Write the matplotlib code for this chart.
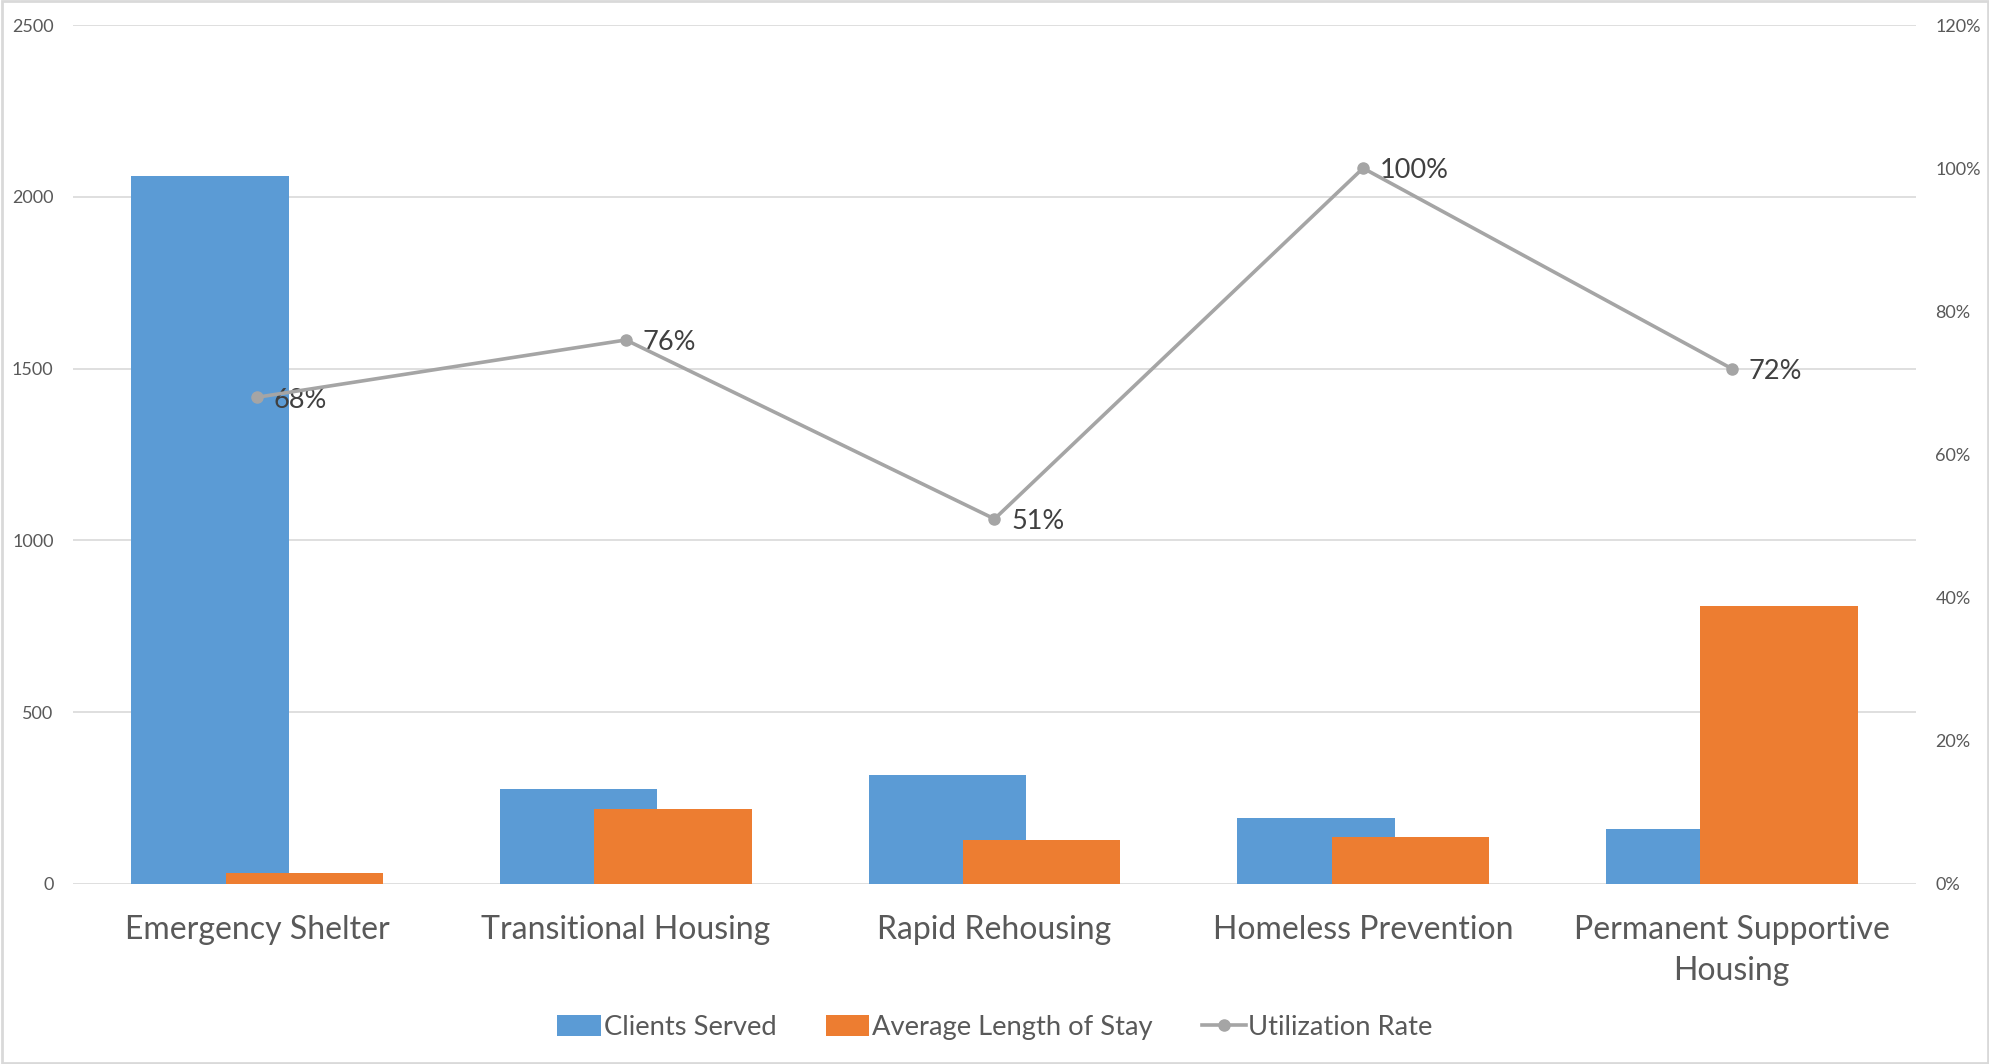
import numpy as np
import matplotlib
matplotlib.use("Agg")
import matplotlib.pyplot as plt
from matplotlib.patches import Rectangle
from matplotlib.ticker import FuncFormatter

plt.rcParams['font.family'] = ['Lato', 'DejaVu Sans']

categories = ["Emergency Shelter", "Transitional Housing", "Rapid Rehousing",
              "Homeless Prevention", "Permanent Supportive\nHousing"]
clients_served = [2061, 276, 316, 192, 159]
avg_length_stay = [32, 219, 129, 138, 808]
utilization = [0.68, 0.76, 0.51, 1.00, 0.72]

blue = "#5B9BD5"
orange = "#ED7D31"
grey = "#A5A5A5"
text_col = "#595959"
grid_col = "#D9D9D9"

fig = plt.figure(figsize=(19.9, 10.64), dpi=100)
ax1 = fig.add_axes([73 / 1990, 1 - 884 / 1064, (1916 - 73) / 1990, (884 - 25) / 1064])
ax2 = ax1.twinx()

x = np.arange(len(categories))
width = 0.427
shift = 0.128

ax1.bar(x - shift, clients_served, width, color=blue, label="Clients Served", zorder=2)
ax1.bar(x + shift, avg_length_stay, width, color=orange, label="Average Length of Stay", zorder=3)

ax2.plot(x, utilization, color=grey, lw=2.6, marker="o", ms=8, label="Utilization Rate", zorder=4)
for xi, v in zip(x, utilization):
    ax2.annotate(f"{v:.0%}", (xi, v), xytext=(12, -2), textcoords="offset points",
                 va="center", ha="left", fontsize=19.5, color="#404040")

ax1.set_xlim(-0.5, len(categories) - 0.5)
ax1.set_ylim(0, 2500)
ax1.set_yticks(np.arange(0, 2501, 500))
ax2.set_ylim(0, 1.2)
ax2.set_yticks(np.arange(0, 1.21, 0.2))
ax2.yaxis.set_major_formatter(FuncFormatter(lambda v, p: f"{v:.0%}"))

ax1.set_xticks(x)
ax1.set_xticklabels(categories, fontsize=23, color=text_col, linespacing=1.45)
ax1.tick_params(axis="x", length=0, pad=22.5)
ax1.tick_params(axis="y", length=0, pad=14, labelsize=13, labelcolor=text_col)
ax2.tick_params(axis="y", length=0, pad=14, labelsize=13, labelcolor=text_col)

ax1.yaxis.grid(True, color=grid_col, lw=1.2, zorder=0)
ax1.set_axisbelow(True)
for ax in (ax1, ax2):
    for s in ax.spines.values():
        s.set_visible(False)

h1, l1 = ax1.get_legend_handles_labels()
h2, l2 = ax2.get_legend_handles_labels()
fig.legend(h1 + h2, l1 + l2, loc="center", bbox_to_anchor=(0.5, 0.034), ncol=3,
           frameon=False, fontsize=19.7, labelcolor=text_col, handlelength=1.6,
           handleheight=0.8, handletextpad=0.1, columnspacing=1.8)

fig.patches.append(Rectangle((0.001, 0.001), 0.998, 0.998, transform=fig.transFigure,
                             fill=False, edgecolor=grid_col, lw=2))

fig.savefig("out.png", dpi=100)
